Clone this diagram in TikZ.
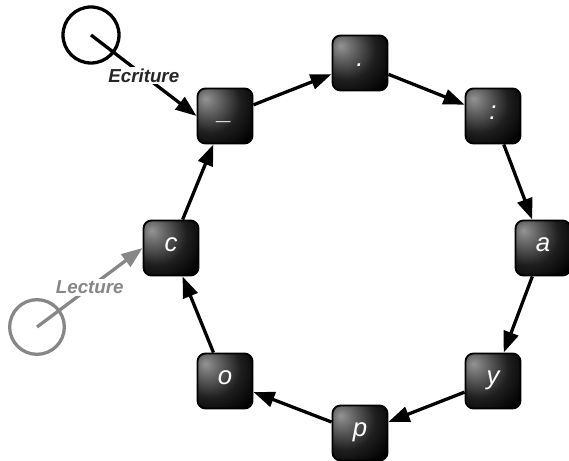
\documentclass[tikz,border=0pt]{standalone}
\usepackage{fontspec}
\setmainfont{Liberation Sans}
\usetikzlibrary{arrows.meta}
\pgfdeclareradialshading{keyglow}{\pgfpoint{-18bp}{16bp}}{color(0bp)=(black!42); color(9bp)=(black!58); color(27bp)=(black!88); color(44bp)=(black); color(100bp)=(black)}
\definecolor{lecgray}{RGB}{135,135,135}
\tikzset{
	keybox/.style={shading=keyglow, draw=black, line width=1.6pt, rounded corners=0.24cm, minimum size=1.65cm, inner sep=0pt, text=white, text height=1ex, text depth=0pt, font=\fontsize{22}{24}\selectfont\itshape},
	ring/.style={line width=2.8pt, -{Triangle[length=18pt,width=13pt]}},
	tag/.style={fill=white, inner sep=1.5pt, font=\fontsize{16}{18}\selectfont\bfseries\itshape},
}

\begin{document}
\begin{tikzpicture}
		%%%%% START %%%%%
		\useasboundingbox (0, 0) rectangle (17.07, 13.8);
		
		\node[keybox] (und) at (6.75, 10.32) {\_};
		\node[keybox] (dot) at (10.80, 11.91) {.};
		\node[keybox] (col) at (14.79, 10.32) {:};
		\node[keybox] (a) at (16.29, 6.36) {a};
		\node[keybox] (y) at (14.79, 2.37) {y};
		\node[keybox] (p) at (10.80, 0.81) {p};
		\node[keybox] (o) at (6.75, 2.37) {o};
		\node[keybox] (c) at (5.13, 6.36) {c};
		
		\draw[ring] (und) -- (dot);
		\draw[ring] (dot) -- (col);
		\draw[ring] (col) -- (a);
		\draw[ring] (a) -- (y);
		\draw[ring] (y) -- (p);
		\draw[ring] (p) -- (o);
		\draw[ring] (o) -- (c);
		\draw[ring] (c) -- (und);
		
		% write head
		\coordinate (ecr) at (2.73, 12.75);
		\draw[line width=2.8pt] (ecr) circle (0.84);
		\draw[ring] (ecr) -- node[tag, text=black!85] {Ecriture} (und.west);
		
		% read head
		\coordinate (lec) at (1.11, 3.99);
		\draw[line width=2.8pt, color=lecgray] (lec) circle (0.82);
		\draw[ring, color=lecgray] (lec) -- node[tag] {Lecture} (c.west);
		
		%%%%% END %%%%%
	\end{tikzpicture}
\end{document}
